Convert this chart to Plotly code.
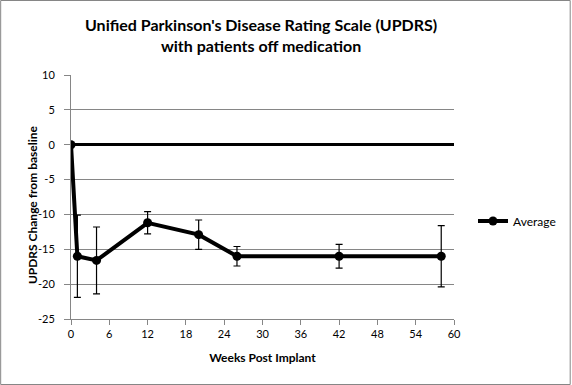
import plotly.graph_objects as go

weeks = [0, 1, 4, 12, 20, 26, 42, 58]
updrs_change = [0, -16.0, -16.6, -11.2, -12.9, -16.0, -16.0, -16.0]
error = [0, 5.9, 4.8, 1.6, 2.1, 1.4, 1.7, 4.4]
x_ticks = list(range(0, 61, 6))
y_ticks = list(range(-25, 11, 5))
y_ticktext = [str(v) for v in y_ticks]

W, H = 572, 385
L, R, T, B = 71, 117, 75, 66
pw, ph = W - L - R, H - T - B

fig = go.Figure()
fig.add_trace(go.Scatter(
    x=weeks, y=updrs_change, mode="lines+markers", name="Average",
    line=dict(color="black", width=4),
    marker=dict(color="black", size=9),
    error_y=dict(type="data", array=error, visible=True, color="black", thickness=1.2, width=3.5),
))

font_family = "Lato, Carlito, Calibri, sans-serif"
fig.update_layout(
    width=W, height=H,
    margin=dict(l=L, r=R, t=T, b=B),
    paper_bgcolor="white", plot_bgcolor="white",
    font=dict(family=font_family, color="black", size=11),
    showlegend=True,
    legend=dict(x=(473 - L) / pw, y=(H - B - 221) / ph, xanchor="left", yanchor="middle",
                font=dict(size=12), bgcolor="rgba(0,0,0,0)", itemwidth=30),
    xaxis=dict(range=[0, 60], tickvals=x_ticks, showgrid=False, zeroline=False,
               showline=True, linecolor="#868686", linewidth=1,
               ticks="outside", ticklen=5, tickcolor="#868686",
               title=dict(text="<b>Weeks Post Implant</b>", font=dict(size=12), standoff=14)),
    yaxis=dict(range=[-25, 10], tickvals=y_ticks, ticktext=y_ticktext, showgrid=True,
               gridcolor="#868686", gridwidth=1,
               zeroline=True, zerolinecolor="black", zerolinewidth=3,
               showline=True, linecolor="#868686", linewidth=1,
               ticks="outside", ticklen=6, tickcolor="#868686", ticklabelstandoff=7),
    annotations=[
        dict(text="<b>UPDRS Change from baseline</b>", textangle=-90,
             xref="paper", yref="paper", x=(32 - L) / pw, y=(H - B - 205) / ph,
             xanchor="center", yanchor="middle", showarrow=False,
             font=dict(size=12, family=font_family)),
        dict(text="<b>Unified Parkinson's Disease Rating Scale (UPDRS)<br>with patients off medication</b>",
             xref="paper", yref="paper", x=(261 - L) / pw, y=(H - B - 34.5) / ph,
             xanchor="center", yanchor="middle", showarrow=False,
             font=dict(size=16, family=font_family)),
    ],
    shapes=[dict(type="rect", xref="paper", yref="paper",
                 x0=(0.5 - L) / pw, x1=(W - 0.5 - L) / pw,
                 y0=-(B - 0.5) / ph, y1=1 + (T - 0.5) / ph,
                 line=dict(color="#868686", width=1), layer="below")],
)
fig.write_html("out.html", config={"displayModeBar": False},
               post_script="document.body.style.margin='0';document.body.style.overflow='hidden';")
